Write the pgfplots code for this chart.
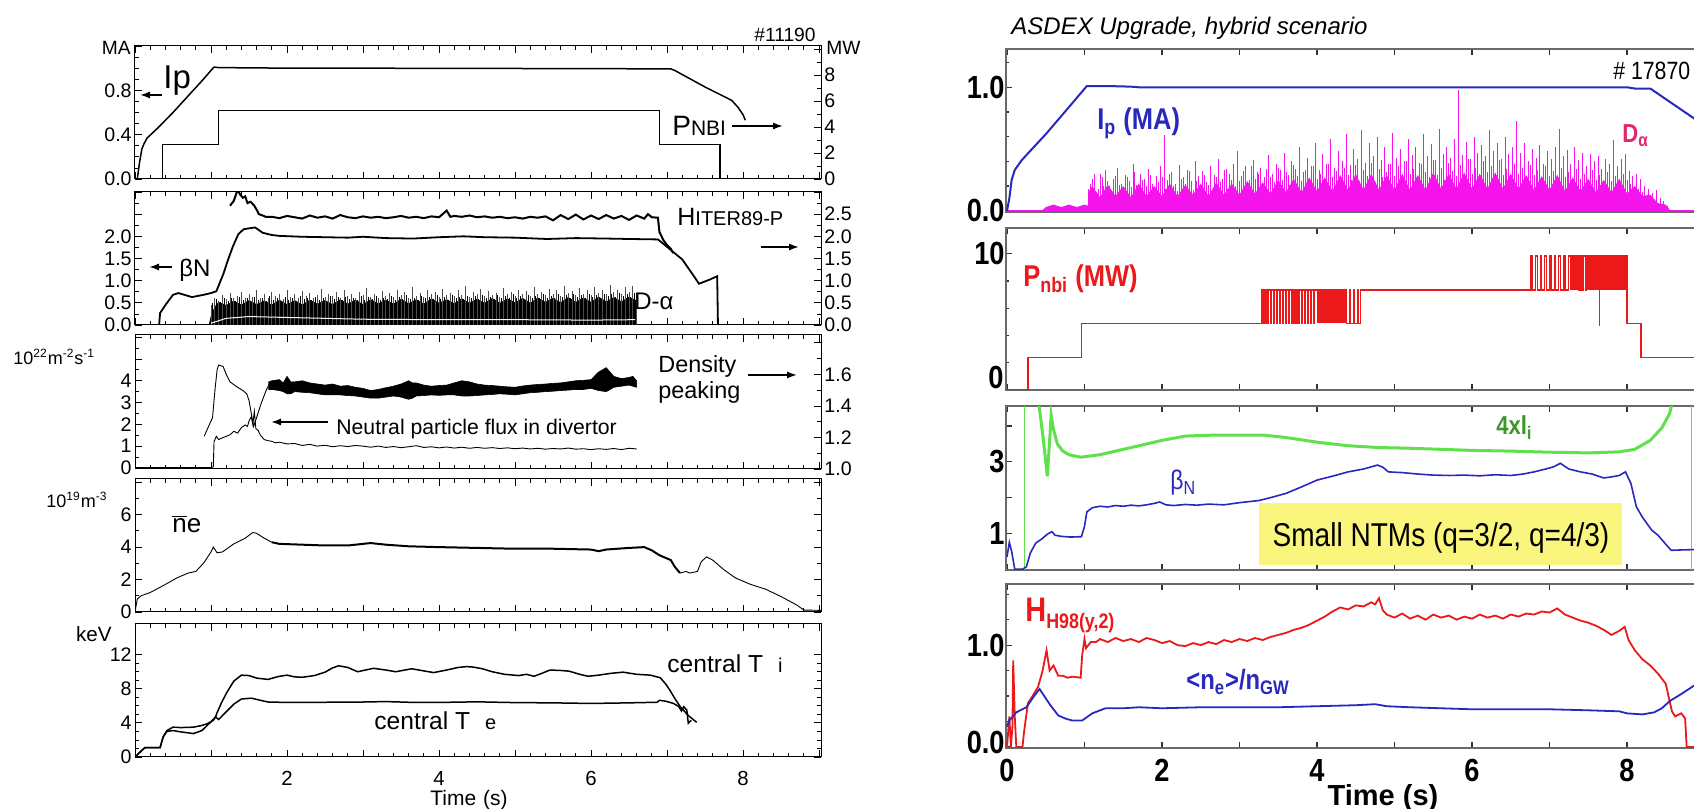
\documentclass[border=0pt]{standalone}
\usepackage{fontspec}
\setmainfont{Liberation Sans}
\newfontfamily\rfc[FakeStretch=0.85]{Liberation Sans}
\usepackage{pgfplots}
\pgfplotsset{compat=1.18}
\usetikzlibrary{arrows.meta}
\definecolor{rblue}{RGB}{40,40,190}
\definecolor{rred}{RGB}{235,25,25}
\definecolor{rgreen}{RGB}{95,225,75}
\definecolor{dgreen}{RGB}{60,150,40}
\definecolor{rmag}{RGB}{245,20,235}
\definecolor{dalab}{RGB}{225,40,110}
\definecolor{rframe}{RGB}{105,105,105}
\definecolor{ryel}{RGB}{250,245,125}
\pgfplotsset{
 Lbase/.style={scale only axis, width=343pt, xmin=0, xmax=9.026,
   axis line style={line width=0.5pt, black},
   tick align=inside, xtick={0,...,9}, minor x tick num=4, xticklabels={},
   major tick length=3.5pt, minor tick length=1.8pt,
   every tick/.style={line width=0.4pt, black},
   tick label style={font=\fontsize{9.8}{11}\selectfont},
   yticklabel style={inner xsep=1.5pt},
   ytick pos=left},
 Lright/.style={scale only axis, width=343pt, xmin=0, xmax=9.026,
   axis x line=none, axis y line*=right,
   axis line style={line width=0.5pt, black, -},
   tick align=inside, major tick length=3.5pt, minor tick length=1.8pt,
   every tick/.style={line width=0.4pt, black},
   tick label style={font=\fontsize{9.8}{11}\selectfont},
   yticklabel style={inner xsep=1.5pt}},
 Rbase/.style={scale only axis, width=357pt, xmin=-0.013, xmax=9.2,
   axis line style={line width=1.2pt, rframe},
   tick align=inside, xtick={0,...,9}, xticklabels={},
   major tick length=3pt, minor tick length=1.6pt,
   every tick/.style={line width=0.6pt, black!80},
   tick label style={font=\rfc\bfseries\fontsize{16}{17}\selectfont},
   yticklabel style={inner xsep=0.5pt},
   xticklabel style={inner ysep=5.5pt}},
}
\begin{document}
\begin{tikzpicture}
\begin{scope}
\clip (0,0) rectangle (847pt,404.5pt);
%%%%%%%%%%%%%%%%%%%%%%%% LEFT P1
\begin{axis}[Lbase, at={(67.5pt,315pt)}, anchor=south west, height=66.5pt, ymin=0, ymax=1.2,
  ytick={0,0.4,0.8,1.2}, yticklabels={0.0,0.4,0.8,}, minor y tick num=3]
\addplot[black, line width=0.75pt] coordinates {(0.03,0)(0.06,0.15)(0.09,0.27)(0.12,0.32)(0.16,0.37)(0.3,0.46)(0.5,0.6)(0.7,0.75)(0.9,0.9)(1.0,0.98)(1.04,1.01)(1.1,1.005)(2,1.0)(3,1.0)(4,0.998)(5,0.997)(6,0.996)(7.05,0.993)(7.1,0.98)(7.5,0.83)(7.85,0.71)(7.93,0.65)(8.0,0.58)(8.03,0.53)};
\end{axis}
\begin{axis}[Lright, at={(67.5pt,315pt)}, anchor=south west, height=66.5pt, ymin=0, ymax=10.23,
  ytick={0,2,4,6,8,10}, yticklabels={0,2,4,6,8,}, minor y tick num=1]
\addplot[black, line width=0.75pt, const plot] coordinates {(0,0)(0.36,2.65)(1.1,5.25)(6.9,2.65)(7.7,0)(9.03,0)};
\end{axis}
%%%%%%%%%%%%%%%%%%%%%%%% LEFT P2
\begin{axis}[Lbase, at={(67.5pt,242pt)}, anchor=south west, height=66.5pt, ymin=0, ymax=3.0,
  ytick={0,0.5,...,3}, yticklabels={0.0,0.5,1.0,1.5,2.0,,}, minor y tick num=1]
\addplot[fill=black, draw=none] coordinates {(0.97,0)(1.0,0.22)(1.05,0.42)(1.1,0.52)(1.2,0.45)(1.3,0.55)(1.4,0.46)(1.5,0.56)(1.6,0.47)(1.7,0.55)(1.8,0.46)(1.9,0.57)(2.0,0.47)(2.1,0.56)(2.2,0.46)(2.3,0.57)(2.4,0.48)(2.5,0.56)(2.6,0.47)(2.7,0.58)(2.8,0.48)(2.9,0.57)(3.0,0.47)(3.1,0.58)(3.2,0.49)(3.3,0.57)(3.4,0.48)(3.5,0.59)(3.6,0.49)(3.7,0.58)(3.8,0.48)(3.9,0.6)(4.0,0.5)(4.1,0.58)(4.2,0.49)(4.3,0.6)(4.4,0.5)(4.5,0.59)(4.6,0.5)(4.7,0.61)(4.8,0.5)(4.9,0.6)(5.0,0.51)(5.1,0.61)(5.2,0.5)(5.3,0.62)(5.4,0.52)(5.5,0.61)(5.6,0.51)(5.7,0.63)(5.8,0.52)(5.9,0.62)(6.0,0.52)(6.1,0.64)(6.2,0.53)(6.3,0.63)(6.4,0.53)(6.5,0.64)(6.6,0.55)(6.6,0)} -- cycle;
\addplot[ycomb, black, line width=0.45pt] coordinates {(1.025,0.50)(1.075,0.58)(1.125,0.52)(1.175,0.62)(1.225,0.55)(1.275,0.60)(1.325,0.53)(1.375,0.63)(1.425,0.56)(1.475,0.61)(1.525,0.54)(1.575,0.64)(1.625,0.57)(1.675,0.60)(1.725,0.55)(1.775,0.65)(1.825,0.56)(1.875,0.62)(1.925,0.54)(1.975,0.63)(2.025,0.57)(2.075,0.61)(2.125,0.55)(2.175,0.66)(2.225,0.58)(2.275,0.62)(2.325,0.56)(2.375,0.64)(2.425,0.57)(2.475,0.61)(2.525,0.55)(2.575,0.65)(2.625,0.58)(2.675,0.63)(2.725,0.56)(2.775,0.64)(2.825,0.59)(2.875,0.62)(2.925,0.57)(2.975,0.66)(3.025,0.56)(3.075,0.63)(3.125,0.58)(3.175,0.65)(3.225,0.57)(3.275,0.62)(3.325,0.59)(3.375,0.66)(3.425,0.57)(3.475,0.63)(3.525,0.58)(3.575,0.67)(3.625,0.59)(3.675,0.62)(3.725,0.57)(3.775,0.66)(3.825,0.6)(3.875,0.64)(3.925,0.58)(3.975,0.67)(4.025,0.59)(4.075,0.63)(4.125,0.57)(4.175,0.68)(4.225,0.6)(4.275,0.64)(4.325,0.58)(4.375,0.66)(4.425,0.61)(4.475,0.65)(4.525,0.59)(4.575,0.68)(4.625,0.6)(4.675,0.64)(4.725,0.58)(4.775,0.67)(4.825,0.61)(4.875,0.65)(4.925,0.6)(4.975,0.69)(5.025,0.61)(5.075,0.66)(5.125,0.59)(5.175,0.68)(5.225,0.62)(5.275,0.65)(5.325,0.6)(5.375,0.7)(5.425,0.62)(5.475,0.66)(5.525,0.61)(5.575,0.69)(5.625,0.63)(5.675,0.67)(5.725,0.61)(5.775,0.7)(5.825,0.63)(5.875,0.67)(5.925,0.62)(5.975,0.71)(6.025,0.64)(6.075,0.68)(6.125,0.62)(6.175,0.71)(6.225,0.65)(6.275,0.69)(6.325,0.63)(6.375,0.72)(6.425,0.65)(6.475,0.7)(6.525,0.64)(6.575,0.72)};
\addplot[ycomb, black!70, line width=0.4pt] coordinates {(1.00,0.45)(1.05,0.60)(1.10,0.55)(1.15,0.68)(1.20,0.58)(1.25,0.72)(1.30,0.62)(1.35,0.66)(1.40,0.75)(1.45,0.60)(1.50,0.70)(1.55,0.64)(1.60,0.78)(1.65,0.62)(1.70,0.69)(1.75,0.60)(1.80,0.74)(1.85,0.65)(1.90,0.71)(1.95,0.58)(2.00,0.80)(2.05,0.63)(2.10,0.70)(2.15,0.61)(2.20,0.76)(2.25,0.66)(2.30,0.72)(2.35,0.60)(2.40,0.68)(2.45,0.82)(2.50,0.63)(2.55,0.70)(2.60,0.66)(2.65,0.74)(2.70,0.60)(2.75,0.78)(2.80,0.65)(2.85,0.71)(2.90,0.62)(2.95,0.75)(3.00,0.67)(3.05,0.84)(3.10,0.64)(3.15,0.70)(3.20,0.61)(3.25,0.77)(3.30,0.66)(3.35,0.72)(3.40,0.63)(3.45,0.80)(3.50,0.68)(3.55,0.74)(3.60,0.62)(3.65,0.86)(3.70,0.66)(3.75,0.73)(3.80,0.64)(3.85,0.78)(3.90,0.69)(3.95,0.75)(4.00,0.63)(4.05,0.82)(4.10,0.67)(4.15,0.72)(4.20,0.65)(4.25,0.79)(4.30,0.68)(4.35,0.88)(4.40,0.64)(4.45,0.74)(4.50,0.70)(4.55,0.81)(4.60,0.66)(4.65,0.76)(4.70,0.68)(4.75,0.72)(4.80,0.64)(4.85,0.84)(4.90,0.69)(4.95,0.75)(5.00,0.66)(5.05,0.80)(5.10,0.70)(5.15,0.77)(5.20,0.65)(5.25,0.86)(5.30,0.71)(5.35,0.74)(5.40,0.67)(5.45,0.82)(5.50,0.70)(5.55,0.78)(5.60,0.66)(5.65,0.88)(5.70,0.72)(5.75,0.76)(5.80,0.68)(5.85,0.83)(5.90,0.71)(5.95,0.79)(6.00,0.67)(6.05,0.85)(6.10,0.73)(6.15,0.78)(6.20,0.69)(6.25,0.90)(6.30,0.74)(6.35,0.80)(6.40,0.70)(6.45,0.86)(6.50,0.75)(6.55,0.88)(6.60,0.72)};
\addplot[white, line width=0.5pt] coordinates {(1.0,0.04)(1.2,0.15)(1.5,0.19)(2.0,0.17)(3.0,0.13)(4.0,0.12)(5.0,0.12)(6.0,0.11)(6.58,0.12)};
\addplot[black, line width=0.9pt] coordinates {(0.32,0)(0.32,0.05)(0.33,0.27)(0.4,0.45)(0.5,0.68)(0.57,0.72)(0.65,0.68)(0.75,0.63)(0.9,0.68)(1.0,0.72)(1.07,0.76)(1.16,1.14)(1.22,1.45)(1.29,1.78)(1.36,2.05)(1.43,2.16)(1.5,2.18)(1.58,2.2)(1.68,2.08)(1.8,2.03)(1.9,2.01)(2.2,1.99)(2.5,1.98)(2.8,1.97)(3.0,1.99)(3.3,1.96)(3.66,1.95)(4.0,1.98)(4.32,2.0)(4.6,1.98)(5.0,1.97)(5.42,1.94)(5.8,1.96)(6.2,1.95)(6.5,1.94)(6.88,1.93)(6.96,1.82)(7.1,1.62)(7.2,1.48)(7.35,1.11)(7.42,0.93)(7.48,0.97)(7.57,1.03)(7.66,1.1)(7.67,0)};
\addplot[black, line width=1pt] coordinates {(1.25,2.69)(1.3,2.8)(1.35,3.05)(1.38,2.95)(1.42,2.87)(1.45,2.9)(1.48,2.75)(1.52,2.78)(1.57,2.69)(1.6,2.6)(1.63,2.5)(1.68,2.47)(1.72,2.44)(1.8,2.44)(1.9,2.41)(2.0,2.46)(2.1,2.43)(2.2,2.40)(2.3,2.47)(2.4,2.42)(2.5,2.45)(2.6,2.40)(2.7,2.48)(2.8,2.43)(2.9,2.41)(3.0,2.45)(3.1,2.42)(3.2,2.44)(3.3,2.41)(3.4,2.43)(3.5,2.46)(3.6,2.42)(3.7,2.44)(3.8,2.41)(3.9,2.45)(4.0,2.43)(4.1,2.58)(4.15,2.44)(4.2,2.46)(4.3,2.44)(4.4,2.47)(4.5,2.43)(4.6,2.45)(4.7,2.42)(4.8,2.44)(4.9,2.41)(5.0,2.43)(5.1,2.40)(5.2,2.44)(5.3,2.42)(5.4,2.45)(5.5,2.36)(5.6,2.48)(5.7,2.39)(5.8,2.49)(5.9,2.38)(6.0,2.47)(6.1,2.39)(6.2,2.48)(6.3,2.40)(6.4,2.46)(6.5,2.37)(6.6,2.47)(6.7,2.40)(6.75,2.5)(6.8,2.43)(6.88,2.42)(6.9,2.1)(6.95,1.92)(7.0,1.8)(7.05,1.72)(7.08,1.62)};
\end{axis}
\begin{axis}[Lright, at={(67.5pt,242pt)}, anchor=south west, height=66.5pt, ymin=0, ymax=3.0,
  ytick={0,0.5,...,3}, yticklabels={0.0,0.5,1.0,1.5,2.0,2.5,}, minor y tick num=1]
\end{axis}
%%%%%%%%%%%%%%%%%%%%%%%% LEFT P3
\begin{axis}[Lbase, at={(67.5pt,170pt)}, anchor=south west, height=67pt, ymin=-0.05, ymax=6.1,
  ytick={0,1,...,6}, yticklabels={0,1,2,3,4,,}, minor y tick num=1]
\addplot[black, line width=0.45pt] coordinates {(0,0.02)(1.0,0.01)(1.03,0.05)(1.04,1.2)(1.07,1.45)(1.1,1.3)(1.15,1.38)(1.2,1.45)(1.25,1.52)(1.3,1.68)(1.35,1.6)(1.4,1.85)(1.45,1.97)(1.48,1.9)(1.5,2.15)(1.53,2.35)(1.55,2.0)(1.57,2.6)(1.59,1.8)(1.62,1.72)(1.65,1.5)(1.7,1.3)(1.75,1.25)(1.8,1.22)(1.85,1.15)(1.9,1.18)(2.0,1.1)(2.1,1.12)(2.2,1.03)(2.3,1.08)(2.4,1.0)(2.5,1.04)(2.6,0.97)(2.7,1.02)(2.8,0.98)(2.9,1.03)(3.0,1.0)(3.1,0.95)(3.2,1.0)(3.3,0.94)(3.4,0.98)(3.5,0.93)(3.6,0.97)(3.7,1.02)(3.8,0.94)(3.9,0.97)(4.0,0.92)(4.1,0.96)(4.2,0.91)(4.3,0.95)(4.4,0.9)(4.5,0.94)(4.6,0.9)(4.7,0.93)(4.8,0.89)(4.9,0.92)(5.0,0.88)(5.1,0.91)(5.2,0.87)(5.3,0.9)(5.4,0.86)(5.5,0.89)(5.6,0.87)(5.7,0.91)(5.8,0.86)(5.9,0.88)(6.0,0.84)(6.1,0.88)(6.2,0.85)(6.3,0.89)(6.4,0.84)(6.5,0.9)(6.6,0.87)};
\addplot[black, line width=0.45pt] coordinates {(0.91,1.45)(0.98,2.0)(1.02,2.3)(1.05,3.5)(1.08,4.5)(1.10,4.72)(1.16,4.65)(1.2,4.3)(1.25,3.95)(1.34,3.72)(1.42,3.55)(1.47,3.4)(1.50,3.1)(1.53,2.5)(1.56,1.9)(1.59,2.2)(1.66,2.96)(1.73,3.6)(1.77,3.85)};
\addplot[fill=black, draw=black, line width=0.3pt] coordinates {(1.76,3.95)(1.8,4.0)(1.9,4.05)(1.95,3.9)(2.0,4.2)(2.05,3.95)(2.1,3.95)(2.2,4.0)(2.3,3.9)(2.4,3.85)(2.5,3.8)(2.6,3.85)(2.7,3.75)(2.8,3.78)(2.9,3.7)(3.0,3.65)(3.1,3.55)(3.2,3.6)(3.3,3.68)(3.4,3.75)(3.5,3.85)(3.6,4.0)(3.65,3.9)(3.7,3.9)(3.8,3.8)(3.9,3.75)(4.0,3.78)(4.1,3.8)(4.2,3.9)(4.3,4.0)(4.4,3.95)(4.5,3.85)(4.6,3.8)(4.7,3.78)(4.8,3.75)(4.9,3.72)(5.0,3.7)(5.1,3.76)(5.2,3.8)(5.3,3.83)(5.4,3.85)(5.5,3.88)(5.6,3.9)(5.7,3.95)(5.8,4.0)(5.9,4.02)(6.0,4.05)(6.1,4.4)(6.2,4.6)(6.25,4.4)(6.3,4.2)(6.4,4.1)(6.5,4.15)(6.55,4.2)(6.6,4.0)(6.6,3.7)(6.55,3.75)(6.5,3.8)(6.4,3.75)(6.3,3.7)(6.2,3.5)(6.1,3.55)(6.0,3.65)(5.9,3.6)(5.8,3.6)(5.7,3.57)(5.6,3.55)(5.5,3.52)(5.4,3.5)(5.3,3.47)(5.2,3.45)(5.1,3.4)(5.0,3.35)(4.9,3.38)(4.8,3.4)(4.7,3.37)(4.6,3.35)(4.5,3.32)(4.4,3.3)(4.3,3.3)(4.2,3.35)(4.1,3.35)(4.0,3.33)(3.9,3.35)(3.8,3.32)(3.7,3.3)(3.65,3.2)(3.6,3.15)(3.5,3.25)(3.4,3.3)(3.3,3.25)(3.2,3.2)(3.1,3.2)(3.0,3.25)(2.9,3.3)(2.8,3.32)(2.7,3.35)(2.6,3.35)(2.5,3.35)(2.4,3.4)(2.3,3.45)(2.2,3.47)(2.1,3.5)(2.05,3.4)(2.0,3.4)(1.95,3.5)(1.9,3.55)(1.8,3.6)(1.76,3.6)} -- cycle;
\end{axis}
\begin{axis}[Lright, at={(67.5pt,170pt)}, anchor=south west, height=67pt, ymin=1.0, ymax=1.85,
  ytick={1.0,1.2,1.4,1.6,1.8}, yticklabels={1.0,1.2,1.4,1.6,}, minor y tick num=1]
\end{axis}
%%%%%%%%%%%%%%%%%%%%%%%% LEFT P4
\begin{axis}[Lbase, at={(67.5pt,98.5pt)}, anchor=south west, height=66.5pt, ymin=0, ymax=8.2,
  ytick={0,2,4,6,8}, yticklabels={0,2,4,6,}, minor y tick num=1, ytick pos=both]
\addplot[black, line width=0.45pt] coordinates {(0,0)(0.03,0.8)(0.08,1.0)(0.2,1.2)(0.4,1.7)(0.55,2.1)(0.7,2.4)(0.8,2.5)(0.9,3.0)(1.0,3.7)(1.03,4.0)(1.08,3.65)(1.15,3.7)(1.3,4.2)(1.45,4.55)(1.55,4.9)(1.6,4.85)(1.7,4.55)(1.8,4.3)};
\addplot[black, line width=1pt] coordinates {(1.8,4.3)(1.9,4.2)(2.2,4.15)(2.5,4.1)(2.8,4.1)(3.1,4.25)(3.3,4.15)(3.6,4.05)(4.0,4.0)(4.5,3.95)(5.0,3.9)(5.5,3.9)(6.0,3.85)(6.1,3.75)(6.2,3.85)(6.5,3.95)(6.7,4.0)(6.8,3.8)(6.9,3.5)(7.0,3.3)(7.05,3.2)(7.1,2.8)(7.17,2.4)};
\addplot[black, line width=0.45pt] coordinates {(7.17,2.4)(7.25,2.5)(7.3,2.4)(7.4,2.5)(7.45,3.1)(7.52,3.4)(7.6,3.2)(7.75,2.6)(7.9,2.1)(8.1,1.7)(8.3,1.4)(8.5,0.95)(8.7,0.45)(8.8,0.12)(9.03,0.1)};
\end{axis}
%%%%%%%%%%%%%%%%%%%%%%%% LEFT P5
\begin{axis}[Lbase, at={(67.5pt,26pt)}, anchor=south west, height=66.5pt, ymin=0, ymax=15.6,
  ytick={0,4,8,12}, yticklabels={0,4,8,12}, minor y tick num=3, ytick pos=both,
  xticklabels={,,2,,4,,6,,8,}, xticklabel style={font=\fontsize{10.2}{11}\selectfont, inner ysep=7pt}]
\addplot[black, line width=0.75pt] coordinates {(0,0)(0.07,0.6)(0.13,1.1)(0.33,1.1)(0.37,2.35)(0.42,3.0)(0.5,3.1)(0.6,2.95)(0.77,2.75)(0.88,3.1)(0.95,3.7)(1.03,4.4)(1.06,4.7)(1.08,5.2)(1.14,6.4)(1.21,7.6)(1.3,8.9)(1.4,9.6)(1.5,9.55)(1.6,9.25)(1.75,9.1)(1.89,9.45)(2.0,9.6)(2.1,9.4)(2.2,9.35)(2.36,9.55)(2.5,9.95)(2.6,10.45)(2.68,10.7)(2.8,10.5)(2.93,10.0)(3.03,10.2)(3.14,10.4)(3.3,10.2)(3.43,10.0)(3.55,10.2)(3.64,10.35)(3.8,10.1)(3.93,9.9)(4.1,10.2)(4.25,10.5)(4.36,10.6)(4.45,10.55)(4.57,10.35)(4.7,10.0)(4.86,9.7)(5.05,9.55)(5.15,9.7)(5.25,9.47)(5.35,9.8)(5.46,10.2)(5.6,10.15)(5.71,10.07)(5.85,9.7)(5.96,9.47)(6.1,9.6)(6.25,9.8)(6.42,9.95)(6.6,9.7)(6.78,9.6)(6.91,9.3)(6.98,8.6)(7.04,7.8)(7.1,6.9)(7.17,5.95)(7.28,4.86)(7.39,4.07)};
\addplot[black, line width=0.75pt] coordinates {(0,0)(0.07,0.6)(0.13,1.1)(0.33,1.1)(0.37,2.35)(0.42,3.1)(0.5,3.5)(0.6,3.45)(0.77,3.5)(0.88,3.7)(0.95,3.9)(1.03,4.3)(1.06,4.7)(1.1,4.4)(1.2,5.3)(1.3,6.2)(1.4,6.8)(1.53,6.9)(1.65,6.65)(1.75,6.45)(2.0,6.4)(2.5,6.42)(3.0,6.45)(3.3,6.5)(3.6,6.42)(4.0,6.4)(4.5,6.47)(5.0,6.38)(5.5,6.35)(6.0,6.28)(6.5,6.35)(6.87,6.42)(6.9,6.65)(6.98,6.55)(7.08,6.3)(7.15,5.95)(7.19,5.4)(7.22,5.9)(7.26,5.5)(7.28,3.96)(7.32,4.3)};
\end{axis}
%%%%%%%%%%%%%%%%%%%%%%%% RIGHT P1
\begin{axis}[Rbase, at={(503pt,298.5pt)}, anchor=south west, height=81.5pt, ymin=-0.01, ymax=1.31,
  ytick={0,1}, yticklabels={0.0,1.0}, minor ytick={0.2,0.4,0.6,0.8,1.2}]
\addplot[rmag, line width=0.6pt] coordinates {(0,0)(9.2,0)};
\addplot[fill=rmag, draw=none] coordinates {(0.45,0)(0.5,0.03)(0.6,0.05)(0.7,0.03)(0.8,0.05)(0.9,0.03)(1.0,0.05)(1.04,0.04)(1.06,0.16)(1.1,0.2)(1.2,0.11)(1.3,0.21)(1.4,0.12)(1.5,0.2)(1.6,0.11)(1.7,0.22)(1.8,0.12)(1.9,0.2)(2.0,0.12)(2.1,0.22)(2.2,0.12)(2.3,0.21)(2.4,0.13)(2.5,0.22)(2.6,0.12)(2.7,0.23)(2.8,0.13)(2.9,0.22)(3.0,0.13)(3.1,0.24)(3.2,0.14)(3.3,0.23)(3.4,0.14)(3.5,0.25)(3.6,0.15)(3.7,0.26)(3.8,0.15)(3.9,0.27)(4.0,0.16)(4.1,0.27)(4.2,0.16)(4.3,0.29)(4.4,0.17)(4.5,0.3)(4.6,0.17)(4.7,0.3)(4.8,0.17)(4.9,0.29)(5.0,0.17)(5.1,0.3)(5.2,0.17)(5.3,0.29)(5.4,0.17)(5.5,0.31)(5.6,0.18)(5.7,0.3)(5.8,0.18)(5.9,0.31)(6.0,0.18)(6.1,0.3)(6.2,0.18)(6.3,0.31)(6.4,0.18)(6.5,0.3)(6.6,0.18)(6.7,0.29)(6.8,0.17)(6.9,0.28)(7.0,0.17)(7.1,0.29)(7.2,0.16)(7.3,0.27)(7.4,0.16)(7.5,0.26)(7.6,0.15)(7.7,0.25)(7.8,0.15)(7.9,0.26)(8.0,0.14)(8.1,0.2)(8.2,0.12)(8.3,0.13)(8.4,0.06)(8.5,0.05)(8.56,0.0)} -- cycle;
\addplot[ycomb, rmag, line width=0.45pt] coordinates {(1.05,0.18)(1.10,0.26)(1.15,0.15)(1.20,0.30)(1.25,0.20)(1.30,0.24)(1.35,0.16)(1.40,0.28)(1.45,0.21)(1.50,0.17)(1.55,0.27)(1.60,0.19)(1.65,0.31)(1.70,0.16)(1.75,0.25)(1.80,0.2)(1.85,0.29)(1.90,0.15)(1.95,0.23)(2.00,0.27)(2.05,0.18)(2.10,0.3)(2.15,0.2)(2.20,0.16)(2.25,0.26)(2.30,0.22)(2.35,0.32)(2.40,0.17)(2.45,0.24)(2.50,0.19)(2.55,0.29)(2.60,0.21)(2.65,0.16)(2.70,0.27)(2.75,0.23)(2.80,0.33)(2.85,0.18)(2.90,0.25)(2.95,0.2)(3.00,0.24)(3.05,0.32)(3.10,0.21)(3.15,0.36)(3.20,0.26)(3.25,0.30)(3.30,0.22)(3.35,0.34)(3.40,0.27)(3.45,0.23)(3.50,0.35)(3.55,0.25)(3.60,0.31)(3.65,0.21)(3.70,0.37)(3.75,0.28)(3.80,0.24)(3.85,0.33)(3.90,0.22)(3.95,0.36)(4.00,0.26)(4.05,0.3)(4.10,0.23)(4.15,0.38)(4.20,0.27)(4.25,0.32)(4.30,0.22)(4.35,0.35)(4.40,0.29)(4.45,0.25)(4.50,0.37)(4.55,0.24)(4.60,0.33)(4.65,0.28)(4.70,0.39)(4.75,0.23)(4.80,0.34)(4.85,0.27)(4.90,0.31)(4.95,0.38)(5.00,0.28)(5.05,0.36)(5.10,0.25)(5.15,0.40)(5.20,0.30)(5.25,0.34)(5.30,0.26)(5.35,0.38)(5.40,0.31)(5.45,0.27)(5.50,0.41)(5.55,0.29)(5.60,0.35)(5.65,0.25)(5.70,0.39)(5.75,0.32)(5.80,0.28)(5.85,0.37)(5.90,0.26)(5.95,0.42)(6.00,0.3)(6.05,0.35)(6.10,0.27)(6.15,0.4)(6.20,0.31)(6.25,0.36)(6.30,0.26)(6.35,0.41)(6.40,0.29)(6.45,0.34)(6.50,0.28)(6.55,0.38)(6.60,0.3)(6.65,0.35)(6.70,0.25)(6.75,0.37)(6.80,0.29)(6.85,0.33)(6.90,0.24)(6.95,0.36)(7.00,0.28)(7.05,0.32)(7.10,0.25)(7.15,0.35)(7.20,0.27)(7.25,0.31)(7.30,0.23)(7.35,0.34)(7.40,0.26)(7.45,0.3)(7.50,0.23)(7.55,0.33)(7.60,0.25)(7.65,0.29)(7.70,0.22)(7.75,0.31)(7.80,0.24)(7.85,0.28)(7.90,0.22)(7.95,0.3)(8.00,0.25)(8.05,0.22)(8.10,0.2)(8.15,0.18)(8.20,0.15)(8.25,0.12)(8.30,0.1)(8.35,0.08)(8.40,0.06)(8.45,0.05)(8.50,0.03)};
\addplot[ycomb, rmag, line width=0.45pt] coordinates {(1.075,0.22)(1.125,0.30)(1.175,0.18)(1.225,0.27)(1.275,0.33)(1.325,0.20)(1.375,0.26)(1.425,0.35)(1.475,0.22)(1.525,0.29)(1.575,0.24)(1.625,0.38)(1.675,0.21)(1.725,0.30)(1.775,0.26)(1.825,0.34)(1.875,0.22)(1.925,0.28)(1.975,0.36)(2.025,0.61)(2.075,0.25)(2.125,0.31)(2.175,0.22)(2.225,0.37)(2.275,0.27)(2.325,0.33)(2.375,0.24)(2.425,0.40)(2.475,0.28)(2.525,0.32)(2.575,0.23)(2.625,0.36)(2.675,0.29)(2.725,0.42)(2.775,0.26)(2.825,0.34)(2.875,0.30)(2.925,0.38)(2.975,0.48)(3.025,0.28)(3.075,0.36)(3.125,0.25)(3.175,0.41)(3.225,0.31)(3.275,0.35)(3.325,0.27)(3.375,0.45)(3.425,0.30)(3.475,0.38)(3.525,0.33)(3.575,0.47)(3.625,0.29)(3.675,0.40)(3.725,0.34)(3.775,0.52)(3.825,0.31)(3.875,0.43)(3.925,0.36)(3.975,0.55)(4.025,0.33)(4.075,0.46)(4.125,0.38)(4.175,0.58)(4.225,0.35)(4.275,0.48)(4.325,0.40)(4.375,0.62)(4.425,0.37)(4.475,0.50)(4.525,0.42)(4.575,0.65)(4.625,0.39)(4.675,0.55)(4.725,0.44)(4.775,0.60)(4.825,0.41)(4.875,0.52)(4.925,0.38)(4.975,0.63)(5.025,0.43)(5.075,0.50)(5.125,0.40)(5.175,0.58)(5.225,0.45)(5.275,0.52)(5.325,0.39)(5.375,0.62)(5.425,0.44)(5.475,0.54)(5.525,0.41)(5.575,0.66)(5.625,0.46)(5.675,0.52)(5.725,0.43)(5.775,0.58)(5.825,0.98)(5.875,0.45)(5.925,0.56)(5.975,0.42)(6.025,0.60)(6.075,0.47)(6.125,0.53)(6.175,0.44)(6.225,0.65)(6.275,0.48)(6.325,0.55)(6.375,0.42)(6.425,0.60)(6.475,0.46)(6.525,0.52)(6.575,0.73)(6.625,0.47)(6.675,0.55)(6.725,0.40)(6.775,0.50)(6.825,0.43)(6.875,0.53)(6.925,0.38)(6.975,0.48)(7.025,0.42)(7.075,0.52)(7.125,0.66)(7.175,0.44)(7.225,0.49)(7.275,0.38)(7.325,0.52)(7.375,0.41)(7.425,0.47)(7.475,0.36)(7.525,0.46)(7.575,0.40)(7.625,0.44)(7.675,0.34)(7.725,0.42)(7.775,0.38)(7.825,0.57)(7.875,0.36)(7.925,0.42)(7.975,0.46)(8.025,0.32)(8.075,0.28)(8.125,0.30)(8.175,0.26)(8.225,0.20)(8.275,0.18)(8.325,0.14)(8.375,0.17)(8.425,0.10)(8.475,0.08)(8.525,0.04)};
\addplot[rblue, line width=1pt] coordinates {(0,0)(0.03,0.1)(0.06,0.25)(0.1,0.33)(0.19,0.41)(0.5,0.62)(0.8,0.84)(1.03,1.01)(1.3,1.01)(1.6,1.005)(1.7,1.0)(8.0,1.0)(8.1,0.99)(8.3,0.99)(8.86,0.75)(9.2,0.6)};
\end{axis}
%%%%%%%%%%%%%%%%%%%%%%%% RIGHT P2
\begin{axis}[Rbase, at={(503pt,209.5pt)}, anchor=south west, height=81pt, ymin=0, ymax=11.9,
  ytick={0,10}, yticklabels={,10}, minor ytick={2,4,6,8}]
\addplot[fill=rred, draw=none] coordinates {(4.0,4.9)(4.38,4.9)(4.38,7.35)(4.0,7.35)} -- cycle;
\addplot[fill=rred, draw=none] coordinates {(7.26,7.35)(7.37,7.35)(7.37,9.85)(7.26,9.85)} -- cycle;
\addplot[fill=rred, draw=none] coordinates {(7.48,7.35)(8.0,7.35)(8.0,9.85)(7.48,9.85)} -- cycle;
\addplot[rred, line width=0.6pt, const plot] coordinates {(-0.013,0)(0.27,2.4)(0.96,4.9)(3.29,7.35)(3.315,4.9)(3.33,7.35)(3.355,4.9)(3.37,7.35)(3.395,4.9)(3.41,7.35)(3.435,4.9)(3.45,7.35)(3.475,4.9)(3.49,7.35)(3.515,4.9)(3.53,7.35)(3.555,4.9)(3.57,7.35)(3.595,4.9)(3.61,7.35)(3.635,4.9)(3.65,7.35)(3.675,4.9)(3.69,7.35)(3.715,4.9)(3.73,7.35)(3.755,4.9)(3.77,7.35)(3.795,4.9)(3.81,7.35)(3.835,4.9)(3.85,7.35)(3.875,4.9)(3.89,7.35)(3.915,4.9)(3.93,7.35)(3.955,4.9)(3.97,7.35)(4.38,4.9)(4.42,7.35)(4.435,4.9)(4.47,7.35)(4.485,4.9)(4.52,7.35)(4.535,4.9)(4.56,7.35)(6.76,9.85)(6.78,7.35)(6.82,9.85)(6.84,7.35)(6.88,9.85)(6.9,7.35)(6.94,9.85)(6.96,7.35)(7.0,9.85)(7.02,7.35)(7.06,9.85)(7.08,7.35)(7.12,9.85)(7.14,7.35)(7.18,9.85)(7.2,7.35)(7.24,9.85)(7.38,7.35)(7.40,9.85)(7.42,7.35)(7.44,9.85)(7.46,7.35)(7.48,9.85)(8.0,4.9)(8.18,2.4)(9.2,2.4)};
\addplot[rred, line width=0.5pt] coordinates {(7.64,7.35)(7.64,4.7)};
\end{axis}
%%%%%%%%%%%%%%%%%%%%%%%% RIGHT P3
\begin{axis}[Rbase, at={(503pt,119.5pt)}, anchor=south west, height=82pt, ymin=-0.02, ymax=4.56,
  ytick={0,1,2,3,4}, yticklabels={,1,,3,}]
\fill[ryel] (axis cs:3.25,0.12) rectangle (axis cs:7.94,1.85);
\addplot[rgreen, line width=0.5pt] coordinates {(0.23,-0.1)(0.23,4.8)};
\addplot[rgreen, line width=0.5pt] coordinates {(8.6,4.8)(8.83,4.8)(8.83,-0.1)};
\addplot[rgreen, line width=1.5pt] coordinates {(0.40,4.8)(0.47,3.6)(0.52,2.6)(0.55,3.6)(0.57,4.3)(0.6,3.9)(0.65,3.5)(0.72,3.3)(0.8,3.2)(0.95,3.13)(1.2,3.2)(1.5,3.35)(1.8,3.5)(2.0,3.6)(2.3,3.72)(2.7,3.75)(3.0,3.75)(3.3,3.75)(3.6,3.68)(4.0,3.55)(4.4,3.45)(4.8,3.4)(5.2,3.38)(5.6,3.35)(6.0,3.32)(6.5,3.3)(7.0,3.27)(7.5,3.25)(7.9,3.28)(8.1,3.35)(8.3,3.6)(8.45,3.95)(8.55,4.35)(8.6,4.8)};
\addplot[rblue, line width=0.8pt] coordinates {(0,0.35)(0.03,0.75)(0.06,0.5)(0.1,0.0)(0.2,0.0)(0.25,0.07)(0.3,0.45)(0.37,0.73)(0.45,0.85)(0.52,0.98)(0.58,1.05)(0.62,0.95)(0.7,0.92)(0.82,0.9)(0.96,0.91)(1.0,1.2)(1.03,1.6)(1.1,1.72)(1.2,1.76)(1.3,1.74)(1.4,1.78)(1.5,1.76)(1.6,1.79)(1.7,1.77)(1.8,1.8)(1.9,1.84)(1.97,1.88)(2.05,1.8)(2.15,1.78)(2.3,1.81)(2.45,1.79)(2.6,1.82)(2.8,1.8)(3.0,1.86)(3.25,1.92)(3.4,2.0)(3.6,2.12)(3.8,2.3)(4.0,2.49)(4.2,2.6)(4.4,2.72)(4.6,2.8)(4.78,2.91)(4.85,2.85)(4.92,2.72)(5.1,2.7)(5.3,2.66)(5.5,2.63)(5.7,2.62)(5.9,2.63)(6.1,2.61)(6.3,2.64)(6.5,2.62)(6.66,2.66)(6.8,2.72)(6.95,2.8)(7.05,2.86)(7.14,2.96)(7.25,2.8)(7.4,2.72)(7.55,2.66)(7.7,2.55)(7.8,2.58)(7.9,2.62)(7.98,2.72)(8.05,2.4)(8.12,1.75)(8.2,1.45)(8.32,1.09)(8.4,0.95)(8.5,0.7)(8.57,0.53)(8.7,0.54)(8.86,0.55)(9.2,0.55)};
\end{axis}
%%%%%%%%%%%%%%%%%%%%%%%% RIGHT P4
\begin{axis}[Rbase, at={(503pt,30.5pt)}, anchor=south west, height=82pt, ymin=-0.01, ymax=1.6,
  ytick={0,1}, yticklabels={,1.0}, minor ytick={0.25,0.5,0.75,1.25,1.5},
  xticklabels={0,,2,,4,,6,,8,}]
\addplot[rred, line width=0.9pt] coordinates {(0,0)(0.03,0.3)(0.05,0)(0.07,0.2)(0.08,0.85)(0.1,0.3)(0.12,0)(0.2,0)(0.22,0.15)(0.27,0.43)(0.33,0.5)(0.4,0.59)(0.46,0.75)(0.51,0.95)(0.55,0.75)(0.6,0.8)(0.66,0.7)(0.72,0.7)(0.78,0.68)(0.85,0.69)(0.95,0.68)(0.97,0.9)(1.0,1.06)(1.02,0.97)(1.08,1.03)(1.15,1.03)(1.2,1.06)(1.3,1.03)(1.4,1.07)(1.5,1.04)(1.6,1.06)(1.7,1.03)(1.8,1.07)(1.9,1.05)(2.0,1.02)(2.1,1.04)(2.2,1.0)(2.3,0.99)(2.4,1.02)(2.5,1.0)(2.6,1.03)(2.7,1.01)(2.8,1.05)(2.9,1.03)(3.0,1.06)(3.1,1.04)(3.2,1.07)(3.3,1.05)(3.4,1.08)(3.5,1.1)(3.6,1.12)(3.7,1.15)(3.8,1.17)(3.9,1.2)(4.0,1.24)(4.1,1.28)(4.2,1.33)(4.3,1.37)(4.4,1.35)(4.5,1.39)(4.6,1.38)(4.7,1.42)(4.75,1.40)(4.8,1.46)(4.85,1.34)(4.9,1.3)(5.0,1.27)(5.1,1.31)(5.2,1.26)(5.3,1.29)(5.4,1.25)(5.5,1.3)(5.6,1.27)(5.7,1.29)(5.8,1.25)(5.9,1.28)(6.0,1.26)(6.1,1.3)(6.2,1.27)(6.3,1.29)(6.4,1.26)(6.5,1.3)(6.6,1.28)(6.7,1.31)(6.8,1.3)(6.9,1.33)(7.0,1.32)(7.1,1.36)(7.2,1.3)(7.3,1.27)(7.4,1.24)(7.5,1.22)(7.6,1.19)(7.7,1.15)(7.8,1.1)(7.9,1.14)(7.97,1.18)(8.02,1.05)(8.1,0.95)(8.2,0.86)(8.3,0.8)(8.4,0.72)(8.5,0.62)(8.55,0.45)(8.58,0.35)(8.62,0.30)(8.7,0.33)(8.75,0.28)(8.77,0)(9.2,0)};
\addplot[rblue, line width=0.9pt] coordinates {(0,0.2)(0.03,0.26)(0.12,0.34)(0.25,0.39)(0.35,0.5)(0.42,0.57)(0.48,0.5)(0.55,0.42)(0.66,0.31)(0.75,0.28)(0.84,0.26)(0.97,0.26)(1.1,0.33)(1.27,0.38)(1.5,0.38)(1.7,0.39)(2.0,0.38)(2.5,0.39)(3.0,0.39)(3.5,0.39)(4.0,0.4)(4.5,0.41)(4.75,0.42)(4.9,0.4)(5.2,0.39)(5.6,0.38)(6.0,0.37)(6.5,0.37)(7.0,0.37)(7.5,0.36)(7.9,0.35)(8.0,0.33)(8.2,0.32)(8.35,0.34)(8.45,0.38)(8.55,0.45)(8.7,0.52)(8.86,0.6)(9.2,0.7)};
\end{axis}
\end{scope}
%%%%%%%%%%%%%%%%%%%%%%%% ANNOTATIONS (pixel coordinates)
\begin{scope}[x=0.5pt,y=-0.5pt,shift={(0pt,404.5pt)}]
\tikzset{arr/.style={line width=0.9pt, -{Latex[length=5pt,width=3.6pt]}}}
% left chart
\node[anchor=base east, inner sep=0, font=\fontsize{9.6}{10}\selectfont] at (131,55) {MA};
\node[anchor=base west, inner sep=0, font=\fontsize{9.6}{10}\selectfont] at (826,55) {MW};
\node[anchor=base east, inner sep=0, font=\fontsize{9.6}{10}\selectfont] at (816,42) {\#11190};
\node[anchor=base west, inner sep=0, font=\fontsize{16.5}{18}\selectfont] at (163,89) {Ip};
\draw[arr] (162,95) -- (140,95);
\node[anchor=base west, inner sep=0] at (672,136) {{\fontsize{14}{15}\selectfont P}{\fontsize{10.5}{12}\selectfont NBI}};
\draw[arr] (732,126) -- (783,126);
\node[anchor=base west, inner sep=0, font=\fontsize{12}{13}\selectfont] at (179,277) {βN};
\draw[arr] (172,267) -- (149,267);
\node[anchor=base west, inner sep=0] at (677,226) {{\fontsize{12.5}{14}\selectfont H}{\fontsize{10}{11}\selectfont ITER89-P}};
\draw[arr] (761,247) -- (799,247);
\node[anchor=base west, inner sep=0, font=\fontsize{12}{14}\selectfont] at (634,310) {D-α};
\node[anchor=base west, inner sep=0, font=\fontsize{9}{10}\selectfont] at (13,365) {10\textsuperscript{22}m\textsuperscript{-2}s\textsuperscript{-1}};
\node[anchor=base west, inner sep=0, font=\fontsize{11.7}{13}\selectfont] at (658,373) {Density};
\node[anchor=base west, inner sep=0, font=\fontsize{11.7}{13}\selectfont] at (658,399) {peaking};
\draw[arr] (748,375) -- (797,375);
\node[anchor=base west, inner sep=0, font=\fontsize{10.6}{12}\selectfont] at (336,435) {Neutral particle flux in divertor};
\draw[arr] (328,422) -- (271,422);
\node[anchor=base west, inner sep=0, font=\fontsize{9}{10}\selectfont] at (46,508) {10\textsuperscript{19}m\textsuperscript{-3}};
\node[anchor=base west, inner sep=0, font=\fontsize{13}{14}\selectfont] at (172,533) {$\overline{\hbox{n}}$e};
\node[anchor=base east, inner sep=0, font=\fontsize{10.3}{12}\selectfont] at (112,642) {keV};
\node[anchor=base west, inner sep=0, font=\fontsize{12.3}{14}\selectfont] at (667,673) {central T\,\, {\fontsize{10}{11}\selectfont i}};
\node[anchor=base west, inner sep=0, font=\fontsize{12.3}{14}\selectfont] at (374,730) {central T\,\, {\fontsize{10}{11}\selectfont e}};
\node[anchor=base, inner sep=0, font=\fontsize{10.5}{12}\selectfont] at (469,806) {Time\,\,(s)};
% right chart
\node[anchor=base west, inner sep=0, font=\itshape\fontsize{12}{14}\selectfont] at (1011,35) {ASDEX Upgrade, hybrid scenario};
\node[anchor=base west, inner sep=0, font=\rfc\fontsize{12.5}{14}\selectfont] at (1613,80) {\# 17870};
\node[anchor=base west, inner sep=0, text=rblue, font=\rfc\bfseries\fontsize{15}{18}\selectfont] at (1097,130) {I\textsubscript{p} (MA)};
\node[anchor=base west, inner sep=0, text=dalab, font=\rfc\bfseries\fontsize{13}{15}\selectfont] at (1622,143) {D\textsubscript{α}};
\node[anchor=base west, inner sep=0, text=rred, font=\rfc\bfseries\fontsize{15}{18}\selectfont] at (1023,287) {P\textsubscript{nbi} (MW)};
\node[anchor=base east, inner sep=0, font=\rfc\bfseries\fontsize{16}{17}\selectfont] at (1004,389) {0};
\node[anchor=base west, inner sep=0, text=dgreen, font=\rfc\bfseries\fontsize{13}{15}\selectfont] at (1496,435) {4xl\textsubscript{i}};
\node[anchor=base west, inner sep=0, text=rblue, font=\rfc\fontsize{13.5}{15}\selectfont] at (1170,490) {β\textsubscript{N}};
\node[anchor=base, inner sep=0, font=\rfc\fontsize{16.5}{18}\selectfont] at (1441,547) {Small NTMs (q=3/2, q=4/3)};
\node[anchor=base west, inner sep=0, text=rred] at (1025,622) {{\rfc\bfseries\fontsize{17}{18}\selectfont H}\raisebox{-3.5pt}{\rfc\bfseries\fontsize{10.5}{12}\selectfont H98(y,2)}};
\node[anchor=base west, inner sep=0, text=rblue, font=\rfc\bfseries\fontsize{14}{16}\selectfont] at (1186,690) {<n\textsubscript{e}>/n\textsubscript{GW}};
\node[anchor=base east, inner sep=0, font=\rfc\bfseries\fontsize{16}{17}\selectfont] at (1005,754) {0.0};
\node[anchor=base, inner sep=0, font=\bfseries\fontsize{14.5}{16}\selectfont] at (1383,806) {Time (s)};
\end{scope}
\pgfresetboundingbox
\useasboundingbox (0,0) rectangle (847pt,404.5pt);
\end{tikzpicture}
\end{document}
